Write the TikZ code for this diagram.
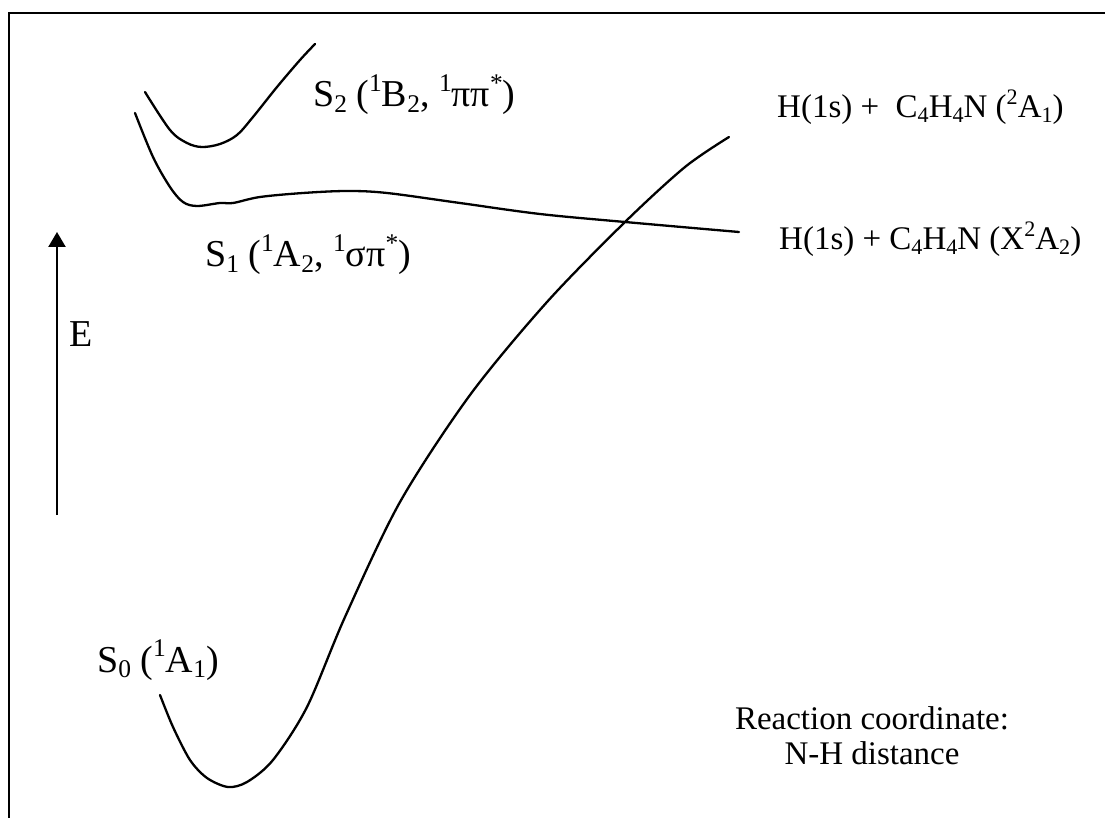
\documentclass[tikz,border=0pt]{standalone}
\usepackage{fontspec}
\setmainfont{Liberation Serif}
\usetikzlibrary{arrows.meta}
\newcommand\sbs[1]{\raisebox{-0.14em}{\scalebox{0.67}{#1}}}
\newcommand\sps[1]{\raisebox{0.42em}{\scalebox{0.67}{#1}}}
\tikzset{
  curve/.style={line width=2.3pt, line join=round, line cap=round},
  big/.style={font=\fontsize{38}{42}\selectfont, anchor=base west, inner sep=0pt},
  small/.style={font=\fontsize{33}{35}\selectfont, anchor=base west, inner sep=0pt},
}
\begin{document}
\begin{tikzpicture}[x=1pt,y=-1pt]
\useasboundingbox (0,0) rectangle (1105,818);
% frame (open at right and bottom)
\draw[line width=2.3pt] (9,818) -- (9,13) -- (1105,13);

% S2 curve
\draw[curve] plot[smooth, tension=0.55] coordinates {(145,92) (170,130) (187,143) (202,147) (220,144) (237,135) (253,117) (277,87) (300,60) (315,44)};
% S1 curve
\draw[curve] plot[smooth, tension=0.55] coordinates {(135,113) (153,157) (170,187) (183,202) (197,206) (220,203) (233,203) (260,197) (303,193) (347,191) (387,193) (460,203) (540,214) (625,222) (739,232)};
% S0 curve
\draw[curve] plot[smooth, tension=0.5] coordinates {(160,695) (173,727) (190,760) (207,778) (228,787) (247,782) (273,760) (307,707) (345,617) (400,502) (470,395) (547,302) (625,222) (685,167) (729,137)};

% energy arrow
\coordinate (ebot) at (57,515);
\coordinate (etop) at (57,232);
\draw[line width=2.3pt, -{Triangle[width=17pt,length=15pt]}] (ebot) -- (etop);
\node[big] (E) at (69,346) {E};

% state labels
\node[big] (s2) at (313,107) {S\sbs{2} (\sps{1}B\sbs{2}, \sps{1}ππ\sps{*})};
\node[big] (s1) at (205,267) {S\sbs{1} (\sps{1}A\sbs{2}, \sps{1}σπ\sps{*})};
\node[big] (s0) at (97,672) {S\sbs{0} (\sps{1}A\sbs{1})};

% asymptote labels
\node[small] (h1) at (777,118) {H(1s) +\ \ C\sbs{4}H\sbs{4}N (\sps{2}A\sbs{1})};
\node[small] (h2) at (779,250) {H(1s) + C\sbs{4}H\sbs{4}N (X\sps{2}A\sbs{2})};

% axis caption
\node[small, anchor=base] (rc1) at (872,729) {Reaction coordinate:};
\node[small, anchor=base] (rc2) at (872,764) {N-H distance};
\end{tikzpicture}
\end{document}
